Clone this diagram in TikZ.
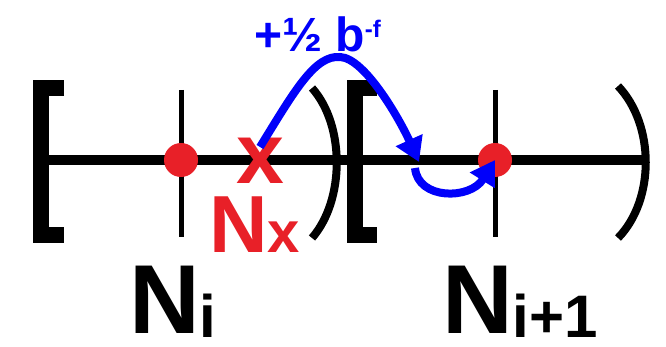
\documentclass[tikz,border=0pt]{standalone}
\usepackage{fontspec}
\setmainfont{Liberation Sans}
\usetikzlibrary{arrows.meta}
\definecolor{mred}{RGB}{232,32,40}
\definecolor{mblue}{RGB}{0,0,250}
\begin{document}
\begin{tikzpicture}[x=1pt,y=-1pt,
  axis/.style={line width=10pt},
  tickline/.style={line width=5pt},
  brk/.style={line width=16pt, miter limit=10},
  par/.style={line width=8pt},
  dotnode/.style={circle, fill=mred, minimum size=34pt, inner sep=0pt},
  jump/.style={mblue, line width=8pt, -{Triangle[length=24pt,width=28pt]}},
  lbl/.style={inner sep=0pt, font=\bfseries}
]
\useasboundingbox (0,0) rectangle (666,347);
% axis
\draw[axis] (41,160) -- (645,160);
% brackets
\draw[brk] (64,88) -- (41,88) -- (41,235) -- (64,235);
\draw[brk] (377,88) -- (355,88) -- (355,235) -- (377,235);
% parens
\draw[par] (312,88) .. controls (345,125) and (345,200) .. (312,238);
\draw[par] (618,86) .. controls (655,125) and (655,200) .. (618,238);
% ticks
\draw[tickline] (181,90) -- (181,237);
\draw[tickline] (495,90) -- (495,237);
% dots
\node[dotnode] (ni) at (181,160) {};
\node[dotnode] (nj) at (495,160) {};
% red x
\node[lbl, text=mred, font=\bfseries\fontsize{86}{86}\selectfont] (nx) at (260,161) {x};
\node[lbl, text=mred, anchor=base west] (nxl) at (209,253) {\fontsize{81}{81}\selectfont N\fontsize{58}{58}\selectfont x};
% labels
\node[lbl, anchor=base west] (Ni) at (129,333) {\fontsize{98}{98}\selectfont N\raisebox{-4pt}{\fontsize{60}{60}\selectfont i}};
\node[lbl, anchor=base west] (Nj) at (442,333) {\fontsize{98}{98}\selectfont N\raisebox{-4pt}{\fontsize{60}{60}\selectfont i+1}};
\node[lbl, text=mblue, anchor=base west] (lab) at (254,52) {\fontsize{48}{48}\selectfont +½ b\raisebox{14pt}{\fontsize{24}{24}\selectfont -f}};
% arrows
\coordinate (s1) at (260,147);
\coordinate (top) at (340,57);
\coordinate (land) at (419,162);
\coordinate (s2) at (415,168);
\draw[jump] (s1) .. controls (295,90) and (315,55) .. (top) .. controls (365,58) and (400,120) .. (land);
\draw[jump] (s2) .. controls (418,200) and (470,200) .. (nj.center);
\end{tikzpicture}
\end{document}
